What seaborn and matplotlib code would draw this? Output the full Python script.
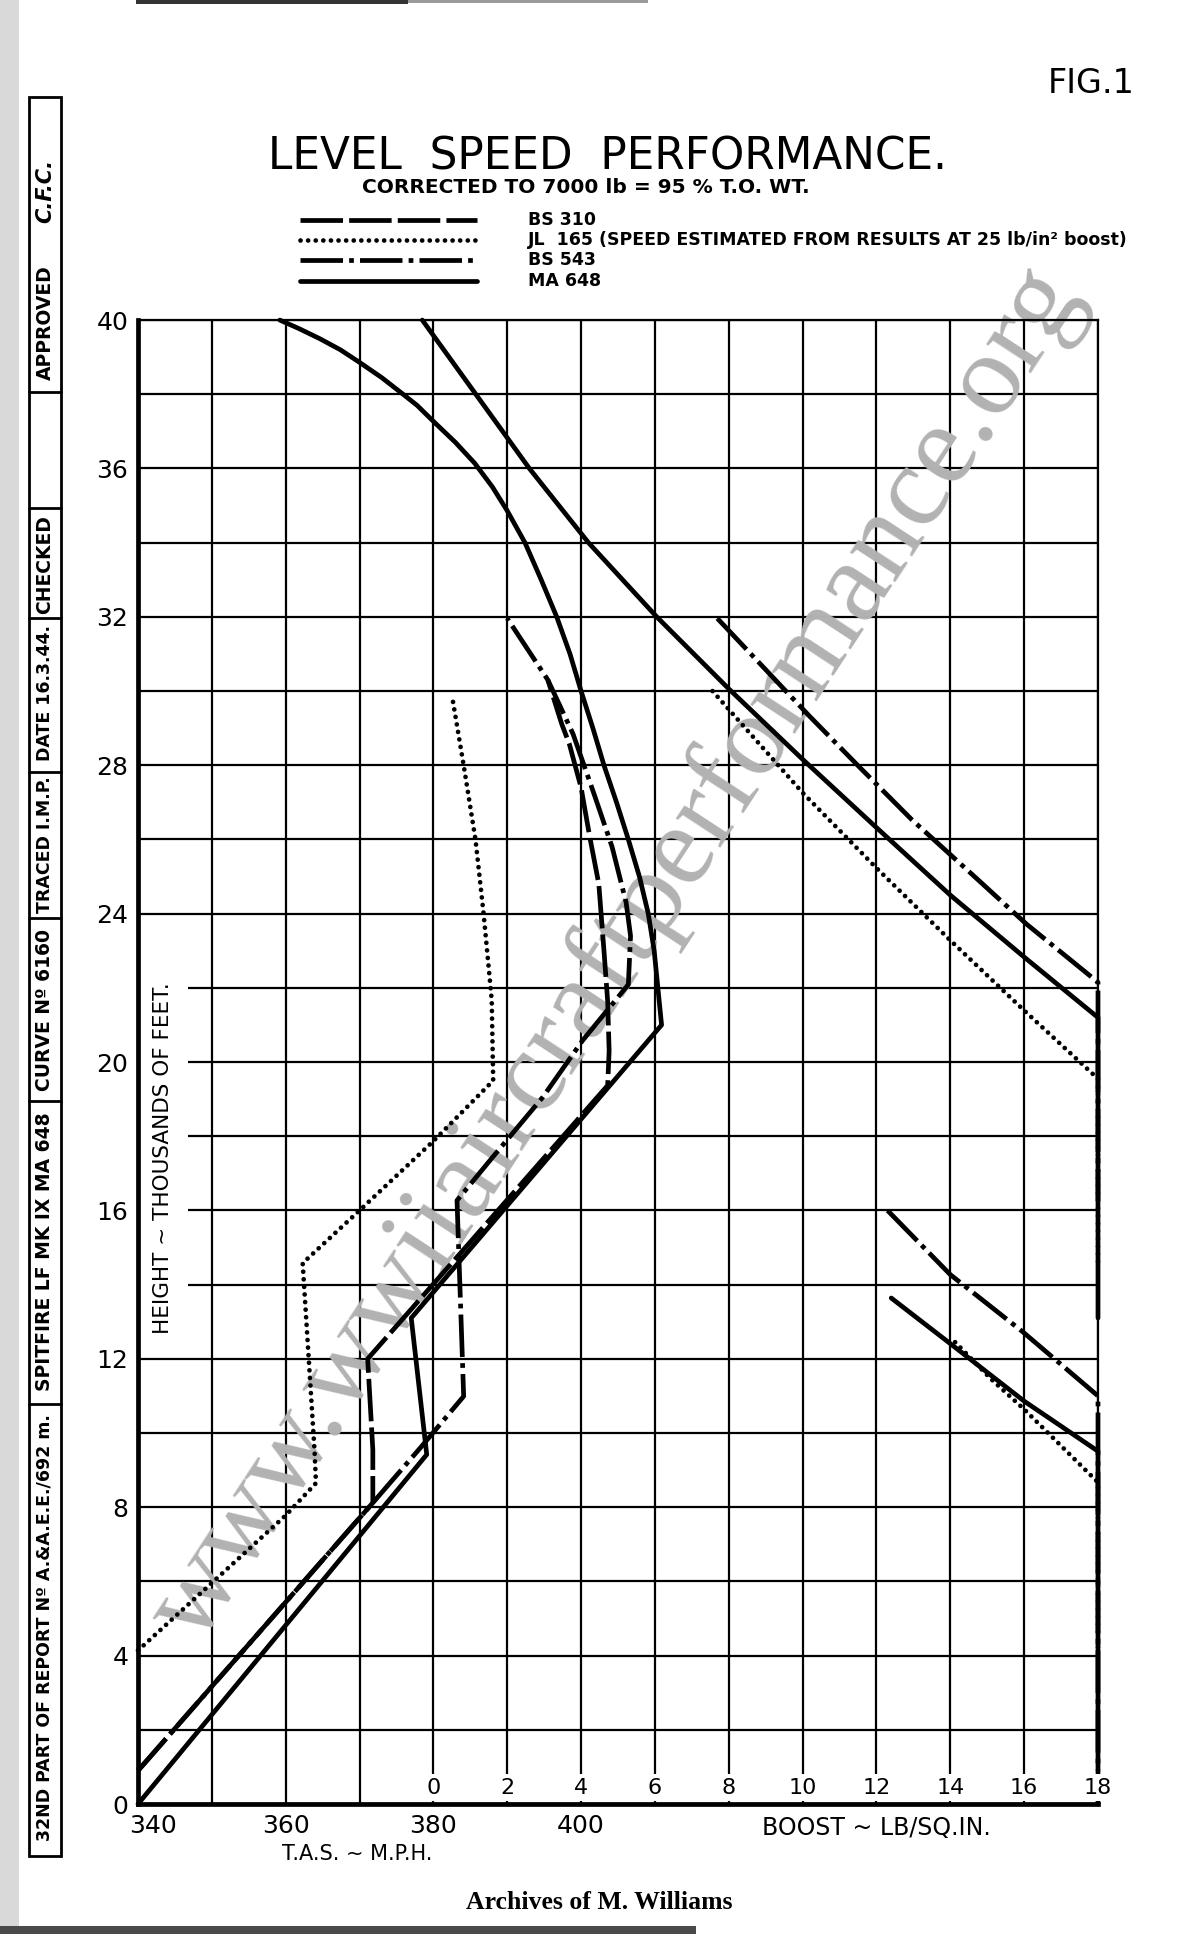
import numpy as np
import pandas as pd
import seaborn as sns
import matplotlib.pyplot as plt
from matplotlib.lines import Line2D
from matplotlib.patches import Rectangle

# Level speed curves: T.A.S. (m.p.h.) against height (thousands of feet)
bs310_tas = [340, 371.8, 371.8, 371.1, 403.6, 403.8, 403.6, 403.1, 402.4, 401.1, 400.0, 398.4, 397.4, 395.5]
bs310_ht = [0.9, 8.12, 9.55, 12.0, 19.37, 20.3, 21.64, 23.0, 24.8, 26.15, 27.4, 28.58, 29.1, 30.3]

jl165_tas = [340, 350, 360, 364.1, 363.9, 362.3, 370.0, 380.0, 388.1, 387.9, 387.7, 386.8, 385.7, 384.1, 382.5]
jl165_ht = [4.14, 5.96, 7.78, 8.65, 9.55, 14.58, 16.0, 17.87, 19.5, 21.66, 22.1, 24.0, 26.0, 28.0, 29.9]

bs543_tas = [340, 371.8, 378.4, 384.1, 383.2, 388.0, 394.8, 400.2, 406.4, 406.7, 406.1, 404.2, 401.8,
             398.9, 395.5, 390.0]
bs543_ht = [0.9, 8.12, 9.64, 10.99, 16.27, 17.43, 19.05, 20.58, 22.09, 23.4, 24.3, 25.8, 27.2,
            28.85, 30.3, 31.96]

ma648_tas = [340, 379.1, 377.0, 410.9, 410.4, 409.9, 409.1, 407.9, 406.4, 404.8, 403.1, 401.6, 400.0,
             398.5, 396.7, 394.6, 392.4, 390.0, 388.0, 385.6, 383.0, 380.0, 377.8, 375.9, 373.0,
             370.0, 367.4, 364.6, 361.8, 359.2]
ma648_ht = [0, 9.42, 13.1, 21.0, 22.0, 23.0, 24.0, 25.0, 26.0, 27.0, 28.0, 29.0, 30.0,
            31.0, 32.0, 33.0, 34.0, 34.86, 35.5, 36.14, 36.7, 37.27, 37.7, 38.0, 38.45,
            38.86, 39.2, 39.5, 39.77, 40.0]

# Boost curves (lb/sq.in.) against height, F.S. and M.S. gear
ma648_fs_boost = [-0.3, 1.15, 2.6, 4.2, 6.05, 8.0, 10.0, 12.0, 14.0, 16.0, 18.0, 18.0]
ma648_fs_ht = [40.0, 38.0, 36.0, 34.0, 32.0, 30.06, 28.16, 26.32, 24.5, 22.83, 21.2, 13.1]
ma648_ms_boost = [12.4, 14.0, 16.0, 18.0, 18.0]
ma648_ms_ht = [13.64, 12.41, 10.86, 9.51, 0.0]

bs543_fs_boost = [7.69, 10.18, 11.51, 12.95, 14.6, 16.05, 18.0, 18.0]
bs543_fs_ht = [31.96, 29.33, 27.98, 26.54, 25.05, 23.73, 22.15, 16.27]
bs543_ms_boost = [12.3, 14.0, 15.96, 18.0, 18.0]
bs543_ms_ht = [16.0, 14.27, 12.73, 11.0, 0.9]

jl165_fs_boost = [7.56, 10.0, 12.0, 14.0, 16.0, 18.0, 18.0]
jl165_fs_ht = [30.0, 27.26, 25.23, 23.28, 21.39, 19.55, 14.58]
jl165_ms_boost = [14.13, 15.11, 16.0, 18.0, 18.0]
jl165_ms_ht = [12.45, 11.45, 10.64, 8.67, 4.14]

series = ['BS 310', 'JL 165', 'BS 543', 'MA 648']
legend_text = ['BS 310',
               'JL  165 (SPEED ESTIMATED FROM RESULTS AT 25 lb/in² boost)',
               'BS 543',
               'MA 648']

tas_ticks = np.arange(340, 471, 10)
tas_labels = ['', '', '360', '', '380', '', '400', '', '', '', '', '', '', '']
ht_ticks = np.arange(0, 41, 2)
boost_ticks = np.arange(0, 19, 2)

styles = {
    'BS 310': dict(linestyle=(0, (9, 1.3)), lw=3.4),
    'JL 165': dict(linestyle=(0, (0.01, 1.6)), lw=3.4, dash_capstyle='round'),
    'BS 543': dict(linestyle=(0, (9, 1.3, 1, 1.3)), lw=3.4),
    'MA 648': dict(linestyle='-', lw=3.4),
}

sns.set_theme(style='white', rc={'axes.edgecolor': 'black', 'text.color': 'black',
                                 'xtick.color': 'black', 'ytick.color': 'black'})
plt.rcParams['font.family'] = ['DejaVu Sans']

fig = plt.figure(figsize=(12, 19.34), dpi=100)
ax = fig.add_axes([0.115, 0.0672, 0.8, 0.7673])


def draw(axis, xs, ys, name):
    df = pd.DataFrame({'x': xs, 'y': ys})
    sns.lineplot(data=df, x='x', y='y', sort=False, estimator=None, ax=axis,
                 color='black', clip_on=False, **styles[name])


draw(ax, bs310_tas, bs310_ht, 'BS 310')
draw(ax, jl165_tas, jl165_ht, 'JL 165')
draw(ax, bs543_tas, bs543_ht, 'BS 543')
draw(ax, ma648_tas, ma648_ht, 'MA 648')

ax.set_xlim(340, 470)
ax.set_ylim(0, 40)
ax.set_xticks(tas_ticks)
ax.set_xticklabels(tas_labels)
ax.set_yticks(ht_ticks)
ax.set_yticklabels([str(v) if v % 4 == 0 else '' for v in ht_ticks])
ax.tick_params(length=0, labelsize=18, pad=7)
ax.grid(True, color='black', lw=1.6)
ax.set_axisbelow(True)
ax.set_xlabel('')
ax.set_ylabel('')
for side in ['left', 'bottom']:
    ax.spines[side].set_linewidth(3.4)
for side in ['top', 'right']:
    ax.spines[side].set_linewidth(1.6)
# first speed label sits a little right of the corner, clear of the height "0"
ax.annotate(str(tas_ticks[0]), xy=(tas_ticks[0], 0), xytext=(11, -7), textcoords='offset points',
            ha='center', va='top', fontsize=18, annotation_clip=False)

ax.text(343.4, 17.4, 'HEIGHT ~ THOUSANDS OF FEET.', rotation=90, ha='center', va='center',
        fontsize=15.5, zorder=1, bbox=dict(boxstyle='square,pad=0.7', fc='white', ec='none'))

# boost scale shares the height axis
ax2 = ax.twiny()
draw(ax2, ma648_fs_boost, ma648_fs_ht, 'MA 648')
draw(ax2, ma648_ms_boost, ma648_ms_ht, 'MA 648')
draw(ax2, bs543_fs_boost, bs543_fs_ht, 'BS 543')
draw(ax2, bs543_ms_boost, bs543_ms_ht, 'BS 543')
draw(ax2, jl165_fs_boost, jl165_fs_ht, 'JL 165')
draw(ax2, jl165_ms_boost, jl165_ms_ht, 'JL 165')
ax2.set_xlim(-8, 18)
ax2.set_ylim(0, 40)
ax2.set_xticks(boost_ticks)
ax2.set_xticklabels([str(v) for v in boost_ticks])
ax2.xaxis.tick_bottom()
ax2.tick_params(axis='x', length=0, pad=-19, labelsize=16)
ax2.set_axisbelow(False)
ax2.grid(False)
ax2.set_xlabel('')
for s in ax2.spines.values():
    s.set_visible(False)
for lbl in ax2.get_xticklabels():
    lbl.set_bbox(dict(boxstyle='square,pad=0.15', fc='white', ec='none'))

# watermark of the scanned source
ax.text(0.514, 0.506, 'www.wwiiaircraftperformance.org', transform=fig.transFigure,
        rotation=56.8, rotation_mode='anchor', ha='center', va='center', fontsize=84,
        family=['Liberation Serif', 'DejaVu Serif'], color='#b2b2b2', zorder=1.5, clip_on=False)

# titles
fig.text(0.506, 0.919, 'LEVEL  SPEED  PERFORMANCE.', ha='center', va='center', fontsize=31.5)
fig.text(0.488, 0.903, 'CORRECTED TO 7000 lb = 95 % T.O. WT.', ha='center', va='center',
         fontsize=14.5, fontweight='bold')
fig.text(0.909, 0.957, 'FIG.1', ha='center', va='center', fontsize=24)

leg_y = [0.8865, 0.8757, 0.8656, 0.8547]
for name, txt, y in zip(series, legend_text, leg_y):
    st = styles[name]
    fig.add_artist(Line2D([0.25, 0.3975], [y, y], transform=fig.transFigure, color='black',
                          lw=st['lw'], linestyle=st['linestyle'],
                          dash_capstyle=st.get('dash_capstyle', 'butt')))
    fig.text(0.44, y, txt, ha='left', va='center', fontsize=12.5, fontweight='bold')

fig.text(0.298, 0.0415, 'T.A.S. ~ M.P.H.', ha='center', va='center', fontsize=15)
fig.text(0.73, 0.0548, 'BOOST ~ LB/SQ.IN.', ha='center', va='center', fontsize=17)
fig.text(0.499, 0.0165, 'Archives of M. Williams', ha='center', va='center', fontsize=18.5,
         fontweight='bold', family=['Liberation Serif', 'DejaVu Serif'])

# scan edges and the title block strip along the left edge
fig.add_artist(Rectangle((0, 0), 0.016, 1, transform=fig.transFigure, fc='#d9d9d9', ec='none'))
fig.add_artist(Rectangle((0, 0), 0.58, 0.004, transform=fig.transFigure, fc='#4a4a4a', ec='none'))
fig.add_artist(Rectangle((0.113, 0.9977), 0.227, 0.0023, transform=fig.transFigure,
                         fc='#333333', ec='none'))
fig.add_artist(Rectangle((0.34, 0.9985), 0.2, 0.0015, transform=fig.transFigure,
                         fc='#9a9a9a', ec='none'))
x0, x1 = 0.024, 0.051
fig.add_artist(Rectangle((x0, 0.0403), x1 - x0, 0.9097, transform=fig.transFigure,
                         fill=False, ec='black', lw=2))
for yy in [0.2743, 0.4306, 0.5255, 0.6008, 0.6805, 0.7373, 0.7973]:
    fig.add_artist(Line2D([x0, x1], [yy, yy], transform=fig.transFigure, color='black', lw=2))
strip = [
    (0.1582, '32ND PART OF REPORT Nº A.&A.E.E./692 m.', 12.5),
    (0.3527, 'SPITFIRE LF MK IX MA 648', 13.5),
    (0.4777, 'CURVE Nº 6160', 13.5),
    (0.5631, 'TRACED I.M.P.', 12.5),
    (0.6416, 'DATE 16.3.44.', 12.5),
    (0.7079, 'CHECKED', 13.5),
    (0.8330, 'APPROVED', 13.5),
]
for yy, txt, fs in strip:
    fig.text((x0 + x1) / 2, yy, txt, rotation=90, ha='center', va='center', fontsize=fs,
             fontweight='bold')
fig.text((x0 + x1) / 2, 0.901, 'C.F.C.', rotation=90, ha='center', va='center', fontsize=15,
         fontstyle='italic', fontweight='bold')

fig.savefig('out.png', dpi=100)
